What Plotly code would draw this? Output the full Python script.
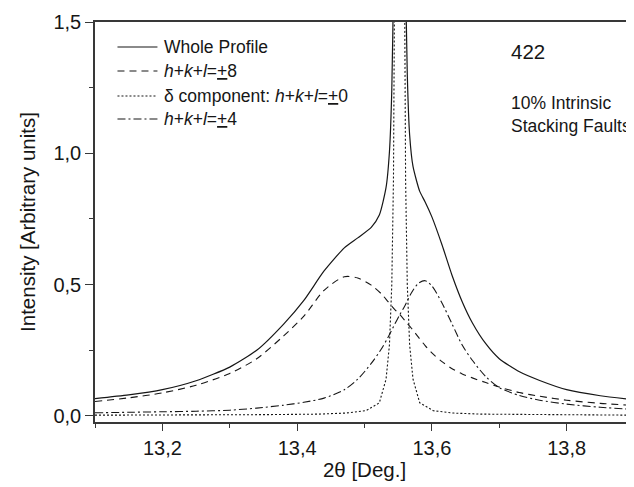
import plotly.graph_objects as go

# ---- data ----
x_h8 = [13.100, 13.150, 13.200, 13.250, 13.300, 13.340, 13.380, 13.410, 13.440, 13.470,
        13.490, 13.510, 13.525, 13.535, 13.545, 13.5523, 13.560, 13.570, 13.580, 13.590,
        13.600, 13.615, 13.630, 13.645, 13.660, 13.680, 13.700, 13.730, 13.760, 13.800,
        13.850, 13.900]
y_h8 = [0.055, 0.069, 0.088, 0.117, 0.162, 0.218, 0.305, 0.380, 0.478, 0.530,
        0.525, 0.498, 0.465, 0.435, 0.405, 0.386, 0.363, 0.333, 0.300, 0.268,
        0.240, 0.207, 0.180, 0.160, 0.145, 0.127, 0.110, 0.089, 0.075, 0.060,
        0.048, 0.040]

x_h4 = x_h8
y_h4 = [0.012, 0.014, 0.016, 0.018, 0.022, 0.030, 0.041, 0.052, 0.068, 0.100,
        0.140, 0.200, 0.255, 0.300, 0.350, 0.385, 0.420, 0.470, 0.505, 0.515,
        0.495, 0.430, 0.350, 0.270, 0.212, 0.150, 0.108, 0.078, 0.060, 0.045,
        0.033, 0.025]

x_delta = [13.100, 13.200, 13.300, 13.352, 13.432, 13.472, 13.502, 13.522, 13.532, 13.537,
           13.5405, 13.543, 13.5443, 13.546, 13.552, 13.558, 13.5597, 13.561, 13.5635, 13.567,
           13.572, 13.582, 13.602, 13.632, 13.672, 13.752, 13.850, 13.900]
y_delta = [0.003, 0.003, 0.004, 0.005, 0.007, 0.011, 0.020, 0.050, 0.140, 0.270,
           0.500, 0.900, 1.500, 2.400, 5.000, 2.400, 1.500, 0.900, 0.500, 0.270,
           0.140, 0.050, 0.020, 0.011, 0.007, 0.005, 0.004, 0.003]

x_whole = [13.100, 13.150, 13.200, 13.250, 13.300, 13.340, 13.380, 13.410, 13.440, 13.470,
           13.490, 13.510, 13.522, 13.532, 13.537, 13.5405, 13.543, 13.546, 13.552, 13.558,
           13.561, 13.5635, 13.567, 13.572, 13.582, 13.590, 13.600, 13.615, 13.630, 13.645,
           13.660, 13.680, 13.700, 13.730, 13.760, 13.800, 13.850, 13.900]
y_whole = [0.066, 0.080, 0.100, 0.134, 0.186, 0.250, 0.350, 0.440, 0.552, 0.640,
           0.678, 0.718, 0.765, 0.870, 1.005, 1.240, 1.650, 3.100, 5.800, 3.200,
           1.690, 1.300, 1.070, 0.950, 0.855, 0.815, 0.758, 0.652, 0.535, 0.435,
           0.355, 0.275, 0.218, 0.168, 0.135, 0.100, 0.077, 0.062]

series_names = ["Whole Profile",
                "<i>h</i>+<i>k</i>+<i>l</i>=<u>+</u>8",
                "δ component: <i>h</i>+<i>k</i>+<i>l</i>=<u>+</u>0",
                "<i>h</i>+<i>k</i>+<i>l</i>=<u>+</u>4"]
series_dash = ["solid", "7px,5px", "2px,2px", "8px,3px,2px,3px"]

x_tickvals = [13.2, 13.4, 13.6, 13.8]
x_ticktext = ["13,2", "13,4", "13,6", "13,8"]
y_tickvals = [0.0, 0.5, 1.0, 1.5]
y_ticktext = ["0,0", "0,5", "1,0", "1,5"]

FONT = "Liberation Sans, Arial, sans-serif"
INK = "#161616"
AX = "#383838"

# plot area in window pixels (page has an 8px body margin)
OFF = 8
PL, PR, PT, PB = 94.5, 634.0, 22.0, 422.0
PW, PH = PR - PL, PB - PT


def px(xw):
    return (xw - PL) / PW


def py(yw):
    return (PB - yw) / PH


fig = go.Figure()
fig.add_trace(go.Scatter(x=x_whole, y=y_whole, mode="lines", name=series_names[0],
                         line=dict(color=INK, width=1.2, dash=series_dash[0],
                                   shape="spline", smoothing=0.6)))
fig.add_trace(go.Scatter(x=x_h8, y=y_h8, mode="lines", name=series_names[1],
                         line=dict(color=INK, width=1.1, dash=series_dash[1],
                                   shape="spline", smoothing=0.8)))
fig.add_trace(go.Scatter(x=x_delta, y=y_delta, mode="lines", name=series_names[2],
                         line=dict(color=INK, width=1.1, dash=series_dash[2])))
fig.add_trace(go.Scatter(x=x_h4, y=y_h4, mode="lines", name=series_names[3],
                         line=dict(color=INK, width=1.1, dash=series_dash[3],
                                   shape="spline", smoothing=0.8)))

# legend drawn by hand (paper coordinates)
for name, dash, yw in zip(series_names, series_dash, (47, 71, 96, 119)):
    fig.add_shape(type="line", xref="paper", yref="paper",
                  x0=px(117), x1=px(157), y0=py(yw), y1=py(yw),
                  line=dict(color=INK, width=1.1, dash=dash))
    fig.add_annotation(text=name, xref="paper", yref="paper",
                       x=px(162), y=py(yw), xanchor="left", yanchor="middle",
                       showarrow=False, font=dict(family=FONT, size=17.5, color=INK))

fig.add_annotation(text="422", x=px(509), y=py(52),
                   xref="paper", yref="paper",
                   xanchor="left", yanchor="middle", showarrow=False,
                   font=dict(family=FONT, size=20.5, color=INK))
fig.add_annotation(text="10% Intrinsic<br>Stacking Faults", x=px(509), y=py(114),
                   xref="paper", yref="paper", xanchor="left", yanchor="middle",
                   showarrow=False, align="left",
                   font=dict(family=FONT, size=17.5, color=INK))

W, H = 634, 487
fig.update_layout(
    width=W, height=H,
    margin=dict(l=PL - OFF, r=W - (PR - OFF), t=PT - OFF, b=H - (PB - OFF)),
    paper_bgcolor="white", plot_bgcolor="white",
    font=dict(family=FONT, size=17, color=INK),
    showlegend=False,
    xaxis=dict(range=[13.1, 13.9], showgrid=False, zeroline=False, automargin=False,
               showline=True, linecolor=AX, linewidth=1.5, mirror=True,
               ticks="outside", ticklen=7, tickwidth=1.2, tickcolor=AX,
               tickvals=x_tickvals, ticktext=x_ticktext,
               minor=dict(dtick=0.1, tick0=13.1, ticks="outside", ticklen=4,
                          tickwidth=1.2, tickcolor=AX, showgrid=False),
               tickfont=dict(family=FONT, size=20, color=INK),
               title=dict(text="2θ [Deg.]", standoff=5,
                          font=dict(family=FONT, size=20.5, color=INK))),
    yaxis=dict(range=[-0.023, 1.5], showgrid=False, zeroline=False, automargin=False,
               showline=True, linecolor=AX, linewidth=1.5, mirror=False,
               ticks="outside", ticklen=8, tickwidth=1.2, tickcolor=AX,
               tickvals=y_tickvals, ticktext=y_ticktext,
               minor=dict(dtick=0.25, tick0=0, ticks="outside", ticklen=4,
                          tickwidth=1.2, tickcolor=AX, showgrid=False),
               tickfont=dict(family=FONT, size=20, color=INK),
               title=dict(text="Intensity [Arbitrary units]", standoff=12,
                          font=dict(family=FONT, size=20.5, color=INK))),
)

fig.write_html("out.html")
